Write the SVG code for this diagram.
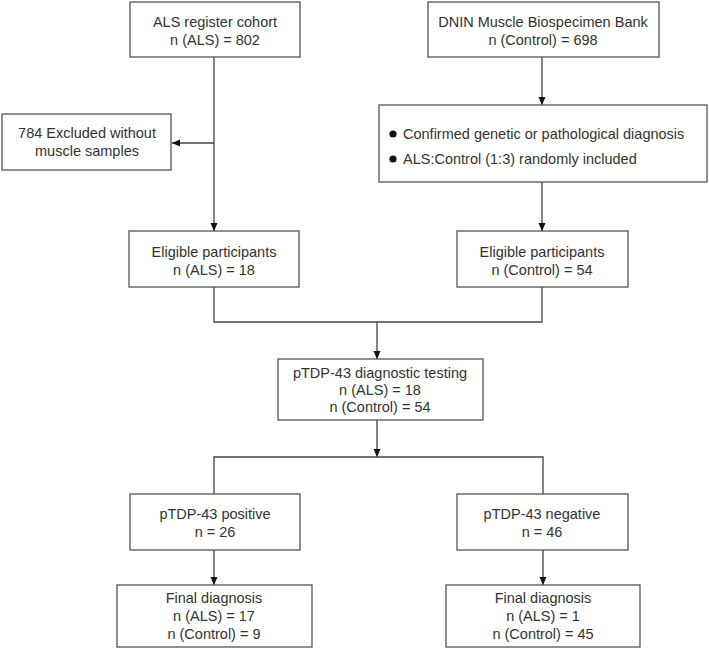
<svg xmlns="http://www.w3.org/2000/svg" width="709" height="650" viewBox="0 0 709 650">
<style>
  .box { fill: #ffffff; stroke: #555555; stroke-width: 1.3; }
  .t { font-family: "Liberation Sans", Arial, sans-serif; font-size: 14.5px; fill: #333333; text-anchor: middle; }
  .tl { font-family: "Liberation Sans", Arial, sans-serif; font-size: 14.5px; fill: #333333; text-anchor: start; }
  .c { fill: none; stroke: #444444; stroke-width: 1.3; }
</style>
<defs>
  <marker id="arr" markerUnits="userSpaceOnUse" markerWidth="9" markerHeight="8" refX="8" refY="3.5" orient="auto">
    <path d="M0,0 L8,3.5 L0,7 z" fill="#111111"/>
  </marker>
</defs>
<rect width="709" height="650" fill="#ffffff"/>
<g id="connectors">
  <line class="c" x1="214" y1="57" x2="214" y2="231" marker-end="url(#arr)"/>
  <line class="c" x1="214" y1="143" x2="172" y2="143" marker-end="url(#arr)"/>
  <line class="c" x1="542" y1="57" x2="542" y2="105" marker-end="url(#arr)"/>
  <line class="c" x1="542" y1="182" x2="542" y2="231" marker-end="url(#arr)"/>
  <path class="c" d="M214,287 V322 H542 V287"/>
  <line class="c" x1="377" y1="322" x2="377" y2="359" marker-end="url(#arr)"/>
  <line class="c" x1="377" y1="420" x2="377" y2="457" marker-end="url(#arr)"/>
  <path class="c" d="M214,494 V457 H543 V494"/>
  <line class="c" x1="214" y1="550" x2="214" y2="585" marker-end="url(#arr)"/>
  <line class="c" x1="543" y1="550" x2="543" y2="585" marker-end="url(#arr)"/>
</g>
<g id="als-register">
  <rect class="box" x="130" y="2" width="170" height="55"/>
  <text class="t" x="215" y="27">ALS register cohort</text>
  <text class="t" x="215" y="45">n (ALS) = 802</text>
</g>
<g id="dnin-bank">
  <rect class="box" x="428" y="2" width="231" height="55"/>
  <text class="t" x="543" y="27">DNIN Muscle Biospecimen Bank</text>
  <text class="t" x="543" y="45">n (Control) = 698</text>
</g>
<g id="excluded">
  <rect class="box" x="2" y="114" width="169" height="56"/>
  <text class="t" x="87" y="138">784 Excluded without</text>
  <text class="t" x="87" y="156">muscle samples</text>
</g>
<g id="criteria">
  <rect class="box" x="379" y="105" width="328" height="77"/>
  <circle cx="393" cy="134" r="3.6" fill="#111111"/>
  <text class="tl" x="403" y="139">Confirmed genetic or pathological diagnosis</text>
  <circle cx="393" cy="159" r="3.6" fill="#111111"/>
  <text class="tl" x="403" y="164">ALS:Control (1:3) randomly included</text>
</g>
<g id="eligible-als">
  <rect class="box" x="129" y="231" width="170" height="56"/>
  <text class="t" x="214" y="257">Eligible participants</text>
  <text class="t" x="214" y="275">n (ALS) = 18</text>
</g>
<g id="eligible-control">
  <rect class="box" x="457" y="231" width="171" height="56"/>
  <text class="t" x="542" y="257">Eligible participants</text>
  <text class="t" x="542" y="275">n (Control) = 54</text>
</g>
<g id="testing">
  <rect class="box" x="278" y="359" width="205" height="61"/>
  <text class="t" x="380" y="378">pTDP-43 diagnostic testing</text>
  <text class="t" x="380" y="395">n (ALS) = 18</text>
  <text class="t" x="380" y="412">n (Control) = 54</text>
</g>
<g id="positive">
  <rect class="box" x="130" y="494" width="170" height="56"/>
  <text class="t" x="215" y="519">pTDP-43 positive</text>
  <text class="t" x="215" y="537">n = 26</text>
</g>
<g id="negative">
  <rect class="box" x="457" y="494" width="171" height="56"/>
  <text class="t" x="542" y="519">pTDP-43 negative</text>
  <text class="t" x="542" y="537">n = 46</text>
</g>
<g id="final-positive">
  <rect class="box" x="117" y="585" width="195" height="62"/>
  <text class="t" x="214" y="603">Final diagnosis</text>
  <text class="t" x="214" y="621">n (ALS) = 17</text>
  <text class="t" x="214" y="639">n (Control) = 9</text>
</g>
<g id="final-negative">
  <rect class="box" x="446" y="585" width="194" height="62"/>
  <text class="t" x="543" y="603">Final diagnosis</text>
  <text class="t" x="543" y="621">n (ALS) = 1</text>
  <text class="t" x="543" y="639">n (Control) = 45</text>
</g>
</svg>
